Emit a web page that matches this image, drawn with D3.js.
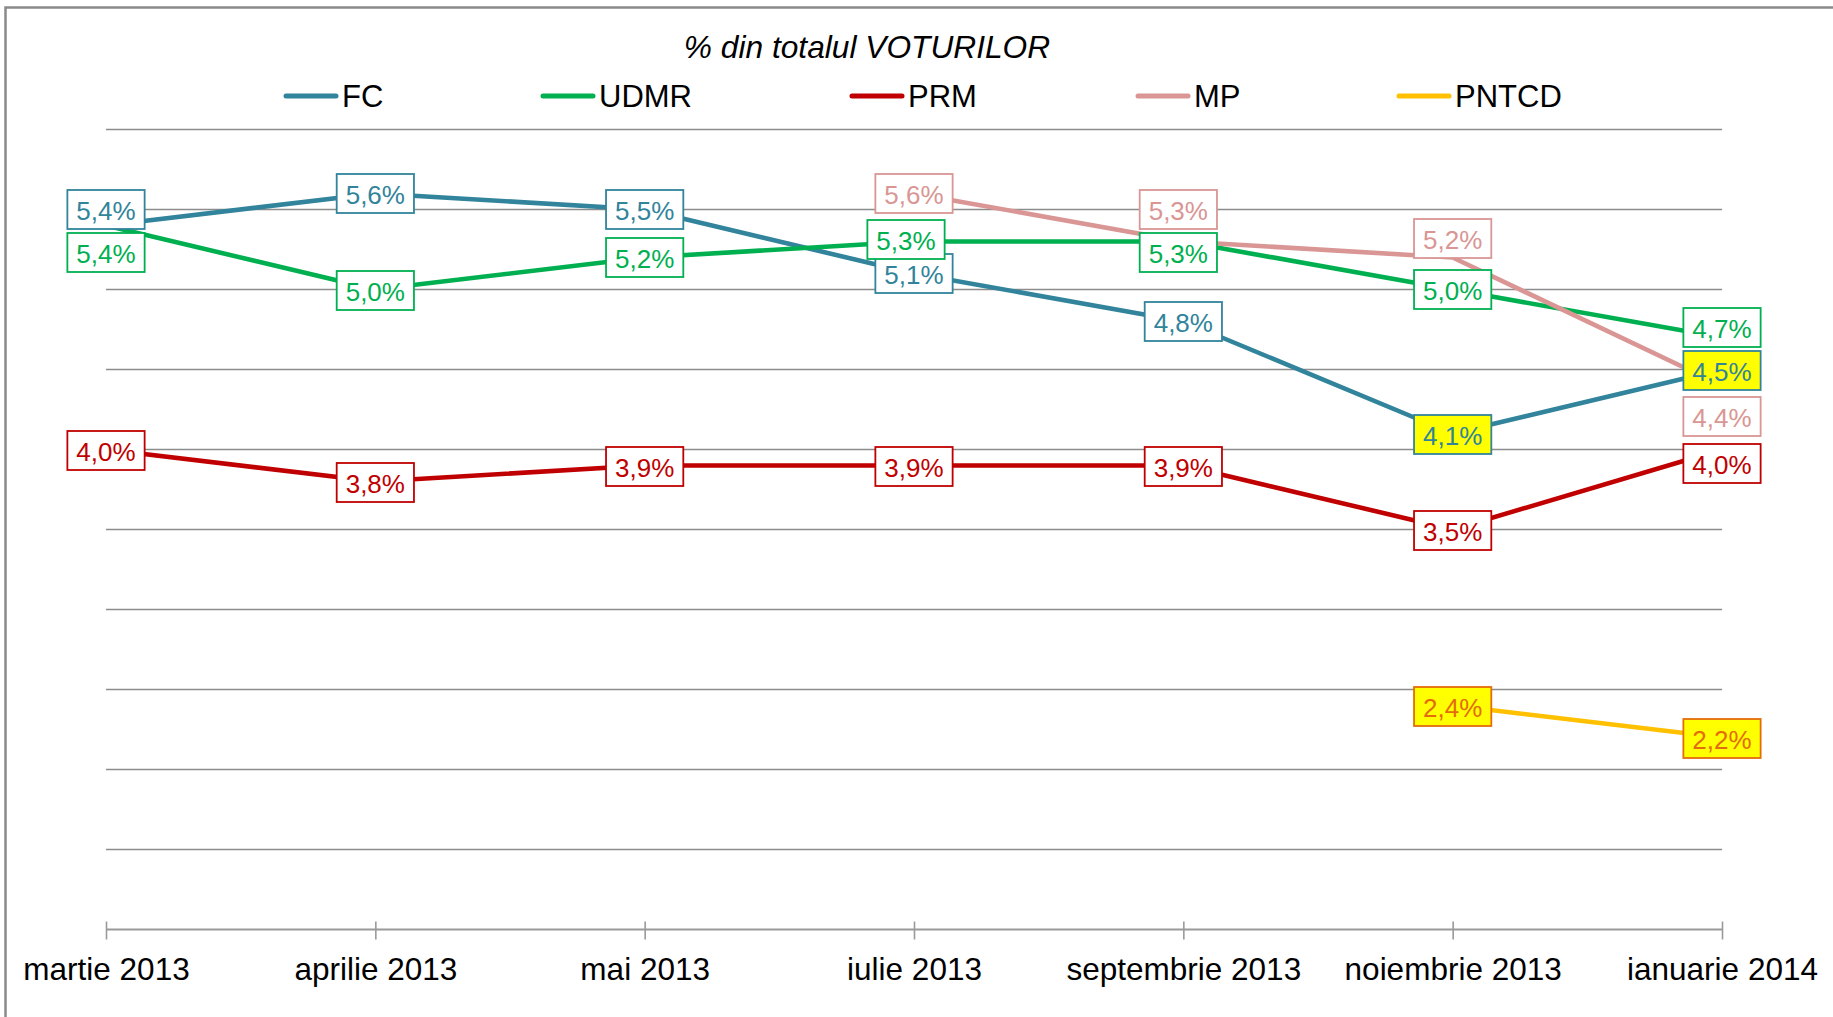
<!DOCTYPE html>
<html>
<head>
<meta charset="utf-8">
<script src="https://cdn.jsdelivr.net/npm/d3@7"></script>
<style>
  html, body { margin: 0; padding: 0; background: #ffffff; }
  svg { display: block; font-family: "Liberation Sans", Arial, sans-serif; }
</style>
</head>
<body>
<svg id="chart" width="1833" height="1017"></svg>
<script>
// ---------- DATA ----------
const categories = ["martie 2013", "aprilie 2013", "mai 2013", "iulie 2013",
                    "septembrie 2013", "noiembrie 2013", "ianuarie 2014"];
const seriesNames = ["FC", "UDMR", "PRM", "MP", "PNTCD"];
const fcValues    = [5.4, 5.6, 5.5, 5.1, 4.8, 4.1, 4.5];
const udmrValues  = [5.4, 5.0, 5.2, 5.3, 5.3, 5.0, 4.7];
const prmValues   = [4.0, 3.8, 3.9, 3.9, 3.9, 3.5, 4.0];
const mpValues    = [null, null, null, 5.6, 5.3, 5.2, 4.4];
const pntcdValues = [null, null, null, null, null, 2.4, 2.2];
const yTicks = [1.5, 2.0, 2.5, 3.0, 3.5, 4.0, 4.5, 5.0, 5.5, 6.0];
const titleText = "% din totalul VOTURILOR";

// ---------- STYLE / LAYOUT (not data) ----------
const lineColors  = ["#31849B", "#00B050", "#C00000", "#D99694", "#FFC000"];
const labelColors = ["#31849B", "#00B050", "#C00000", "#D99694", "#E46C0A"];
const labelFills = [
  ["#fff","#fff","#fff","#fff","#fff","#FFFF00","#FFFF00"],
  ["#fff","#fff","#fff","#fff","#fff","#fff","#fff"],
  ["#fff","#fff","#fff","#fff","#fff","#fff","#fff"],
  ["#fff","#fff","#fff","#fff","#fff","#fff","#fff"],
  ["#fff","#fff","#fff","#fff","#fff","#FFFF00","#FFFF00"]
];
// label offsets [dx, dy] in px from the point (label placement)
const labelShift = [
  [[0,-16],[0,0],[0,0],[0,0],[0,0],[0,1],[0,1]],
  [[0,27],[0,1],[0,0],[-8,-2],[-5,11],[0,0],[0,-10]],
  [[0,1],[0,1],[0,1],[0,1],[0,1],[0,1],[0,14]],
  [[0,0],[0,0],[0,0],[0,0],[-5,-32],[0,-19],[0,31]],
  [[0,0],[0,0],[0,0],[0,0],[0,0],[0,1],[0,1]]
];
const legendX = [284, 541, 850, 1136, 1397];

const allValues = [fcValues, udmrValues, prmValues, mpValues, pntcdValues];

const svg = d3.select("#chart");

// outer chart border
svg.append("rect")
  .attr("x", 5.5).attr("y", 7.5)
  .attr("width", 1900).attr("height", 1100)
  .attr("fill", "none").attr("stroke", "#8a8a8a").attr("stroke-width", 2.5);

const x = d3.scalePoint().domain(categories).range([106, 1722]).padding(0);
const y = d3.scaleLinear().domain([1, 6]).range([929.5, 129.5]);

// gridlines
svg.append("g").selectAll("line").data(yTicks).join("line")
  .attr("x1", 106).attr("x2", 1722)
  .attr("y1", d => y(d)).attr("y2", d => y(d))
  .attr("stroke", "#8c8c8c").attr("stroke-width", 1.6);

// x axis
const axisG = svg.append("g")
  .attr("transform", `translate(0,${y(1)})`)
  .call(d3.axisBottom(x).tickSizeInner(10).tickSizeOuter(0).tickPadding(0));
axisG.select(".domain").attr("stroke", "#9a9a9a").attr("stroke-width", 1.8)
  .attr("d", `M106,0H1722`);
axisG.selectAll(".tick line").attr("stroke", "#9a9a9a").attr("stroke-width", 1.6)
  .attr("y1", -8).attr("y2", 10);
axisG.selectAll(".tick text")
  .attr("y", 50.5).attr("dy", 0)
  .attr("fill", "#000").attr("font-size", "31.5px")
  .attr("font-family", "'Liberation Sans', Arial, sans-serif");

// title
svg.append("text")
  .attr("x", 867).attr("y", 58)
  .attr("text-anchor", "middle")
  .attr("font-size", "31.7px").attr("font-style", "italic")
  .attr("fill", "#000").text(titleText);

// legend
const leg = svg.append("g");
seriesNames.forEach((n, i) => {
  leg.append("line")
    .attr("x1", legendX[i] + 2).attr("x2", legendX[i] + 52)
    .attr("y1", 96).attr("y2", 96)
    .attr("stroke", lineColors[i]).attr("stroke-width", 5)
    .attr("stroke-linecap", "round");
  leg.append("text")
    .attr("x", legendX[i] + 58).attr("y", 107)
    .attr("font-size", "31px").attr("fill", "#000").text(n);
});

// lines
const lineGen = d3.line()
  .defined(d => d.v !== null)
  .x(d => x(d.c)).y(d => y(d.v));

allValues.forEach((vals, i) => {
  const pts = vals.map((v, j) => ({ c: categories[j], v: v }));
  svg.append("path")
    .datum(pts)
    .attr("d", lineGen)
    .attr("fill", "none")
    .attr("stroke", lineColors[i])
    .attr("stroke-width", 4.6)
    .attr("stroke-linejoin", "round")
    .attr("stroke-linecap", "round");
});

// data labels
const fmt = v => d3.format(".1f")(v).replace(".", ",") + "%";
const labG = svg.append("g");
allValues.forEach((vals, i) => {
  vals.forEach((v, j) => {
    if (v === null) return;
    const cx = x(categories[j]) + labelShift[i][j][0];
    const cy = y(v) + labelShift[i][j][1];
    const g = labG.append("g");
    const rect = g.append("rect");
    const t = g.append("text")
      .attr("x", cx).attr("y", cy + 10.5)
      .attr("text-anchor", "middle")
      .attr("font-size", "26px")
      .attr("fill", labelColors[i])
      .text(fmt(v));
    const w = t.node().getComputedTextLength() + 18;
    const h = 39;
    rect.attr("x", cx - w / 2).attr("y", cy - h / 2)
      .attr("width", w).attr("height", h)
      .attr("fill", labelFills[i][j])
      .attr("stroke", labelColors[i]).attr("stroke-width", 1.8);
  });
});
</script>
</body>
</html>
